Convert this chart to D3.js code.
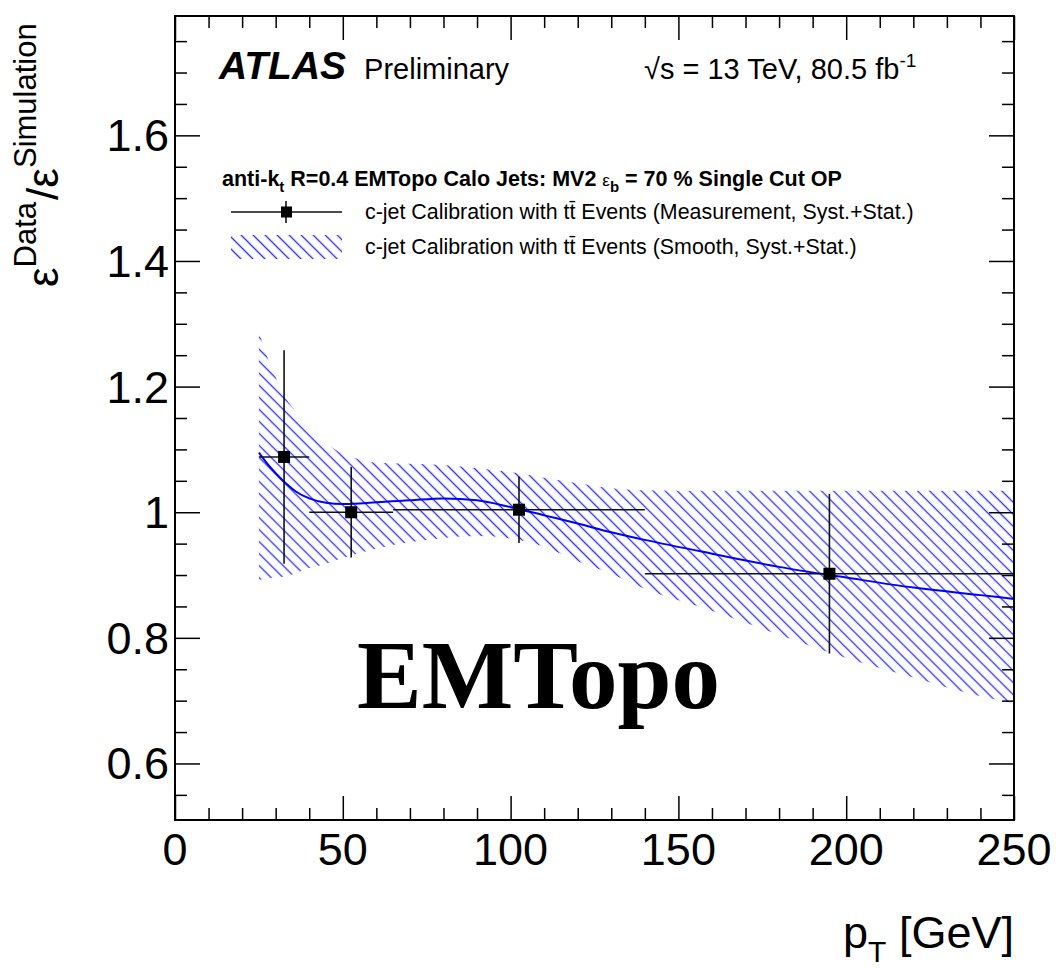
<!DOCTYPE html>
<html>
<head>
<meta charset="utf-8">
<script src="https://cdn.jsdelivr.net/npm/d3@7"></script>
<style>
  body { margin: 0; background: #fff; }
  svg { display: block; font-family: "Liberation Sans", Arial, Helvetica, sans-serif; }
</style>
</head>
<body>
<svg id="chart" width="1056" height="968"></svg>
<script>
// Measured c-jet scale factors per pT bin [GeV]
const binLow  = [25, 40, 65, 140];
const binHigh = [40, 65, 140, 250];
const sfValue = [1.088, 1.000, 1.004, 0.902];
const sfError = [0.170, 0.072, 0.053, 0.127];

// Smoothed calibration: central curve and Syst.+Stat. band
const smoothPt      = [25, 28, 30, 33, 36, 40, 45, 50, 55, 60, 70, 80, 90, 100, 110, 120, 130, 140, 160, 180, 200, 220, 240, 250];
const smoothCentral = [1.095, 1.074, 1.062, 1.046, 1.033, 1.022, 1.015, 1.013, 1.014, 1.016, 1.019, 1.022, 1.019, 1.008, 0.995, 0.982, 0.968, 0.956, 0.934, 0.913, 0.896, 0.880, 0.868, 0.862];
const smoothUp      = [1.287, 1.240, 1.215, 1.182, 1.160, 1.132, 1.110, 1.093, 1.084, 1.079, 1.077, 1.075, 1.070, 1.064, 1.055, 1.046, 1.038, 1.035, 1.034, 1.034, 1.034, 1.034, 1.034, 1.034];
const smoothDown    = [0.892, 0.895, 0.896, 0.898, 0.903, 0.911, 0.918, 0.927, 0.935, 0.942, 0.952, 0.959, 0.962, 0.958, 0.945, 0.922, 0.902, 0.878, 0.843, 0.805, 0.768, 0.737, 0.707, 0.696];

const xMajor = [0, 50, 100, 150, 200, 250];
const yMajor = [0.6, 0.8, 1.0, 1.2, 1.4, 1.6];

const frame = { left: 175, right: 1014, top: 16, bottom: 820 };
const BLUE = '#0000ff';

const svg = d3.select('#chart');

const x = d3.scaleLinear().domain([0, 250]).range([frame.left, frame.right]);
const y = d3.scaleLinear().domain([0.51, 1.79]).range([frame.bottom, frame.top]);

const defs = svg.append('defs');
defs.append('pattern')
  .attr('id', 'hatch')
  .attr('patternUnits', 'userSpaceOnUse')
  .attr('width', 8.5)
  .attr('height', 8.5)
  .attr('patternTransform', 'rotate(45)')
  .append('line')
  .attr('x1', 0).attr('y1', 4.25)
  .attr('x2', 8.5).attr('y2', 4.25)
  .attr('stroke', '#2a2aff')
  .attr('stroke-width', 1.3);

defs.append('clipPath').attr('id', 'plot-clip')
  .append('rect')
  .attr('x', frame.left).attr('y', frame.top)
  .attr('width', frame.right - frame.left)
  .attr('height', frame.bottom - frame.top);

// ── Smooth band + central curve ──
const smooth = smoothPt.map((pt, i) => ({ pt, c: smoothCentral[i], up: smoothUp[i], dn: smoothDown[i] }));

const plot = svg.append('g').attr('clip-path', 'url(#plot-clip)');

plot.append('path')
  .datum(smooth)
  .attr('d', d3.area()
    .x(d => x(d.pt))
    .y0(d => y(d.dn))
    .y1(d => y(d.up))
    .curve(d3.curveMonotoneX))
  .attr('fill', 'url(#hatch)');

plot.append('path')
  .datum(smooth)
  .attr('d', d3.line()
    .x(d => x(d.pt))
    .y(d => y(d.c))
    .curve(d3.curveMonotoneX))
  .attr('fill', 'none')
  .attr('stroke', BLUE)
  .attr('stroke-width', 2);

// ── Measurement points ──
const points = binLow.map((lo, i) => ({
  lo, hi: binHigh[i], mid: (lo + binHigh[i]) / 2, v: sfValue[i], err: sfError[i]
}));

const pts = plot.append('g');
pts.selectAll('.xerr')
  .data(points).enter().append('line')
  .attr('x1', d => x(d.lo)).attr('x2', d => x(d.hi))
  .attr('y1', d => y(d.v)).attr('y2', d => y(d.v))
  .attr('stroke', '#111').attr('stroke-width', 1.6);
pts.selectAll('.yerr')
  .data(points).enter().append('line')
  .attr('x1', d => x(d.mid)).attr('x2', d => x(d.mid))
  .attr('y1', d => y(d.v + d.err)).attr('y2', d => y(d.v - d.err))
  .attr('stroke', '#111').attr('stroke-width', 1.6);
pts.selectAll('.marker')
  .data(points).enter().append('rect')
  .attr('x', d => x(d.mid) - 6).attr('y', d => y(d.v) - 6)
  .attr('width', 12).attr('height', 12)
  .attr('fill', '#000');

// ── Frame and inward ticks on all four sides ──
const xMinor = d3.range(0, 251, 10).filter(v => v % 50 !== 0);
const yMinor = d3.range(0.55, 1.79, 0.05).map(v => +v.toFixed(2))
  .filter(v => !yMajor.some(m => Math.abs(m - v) < 1e-6));

function tickAxis(axisFn, scale, values, size, transform) {
  const g = svg.append('g')
    .attr('transform', transform)
    .call(axisFn(scale).tickValues(values).tickSize(size).tickFormat(''));
  g.select('.domain').remove();
  g.selectAll('.tick line').attr('stroke', '#000').attr('stroke-width', 1.5);
  return g;
}

tickAxis(d3.axisBottom, x, xMajor, -24, `translate(0,${frame.bottom})`);
tickAxis(d3.axisBottom, x, xMinor, -12, `translate(0,${frame.bottom})`);
tickAxis(d3.axisTop, x, xMajor, -24, `translate(0,${frame.top})`);
tickAxis(d3.axisTop, x, xMinor, -12, `translate(0,${frame.top})`);
tickAxis(d3.axisLeft, y, yMajor, -25, `translate(${frame.left},0)`);
tickAxis(d3.axisLeft, y, yMinor, -12, `translate(${frame.left},0)`);
tickAxis(d3.axisRight, y, yMajor, -25, `translate(${frame.right},0)`);
tickAxis(d3.axisRight, y, yMinor, -12, `translate(${frame.right},0)`);

svg.append('rect')
  .attr('x', frame.left).attr('y', frame.top)
  .attr('width', frame.right - frame.left)
  .attr('height', frame.bottom - frame.top)
  .attr('fill', 'none')
  .attr('stroke', '#000')
  .attr('stroke-width', 2);

// Tick labels
const fmtY = d => (d === 1 ? '1' : d3.format('.1f')(d));
svg.append('g').selectAll('text')
  .data(xMajor).enter().append('text')
  .attr('x', d => x(d))
  .attr('y', frame.bottom + 45)
  .attr('text-anchor', 'middle')
  .attr('font-size', 45)
  .text(d => d);
svg.append('g').selectAll('text')
  .data(yMajor).enter().append('text')
  .attr('x', frame.left - 6)
  .attr('y', d => y(d) + 16)
  .attr('text-anchor', 'end')
  .attr('font-size', 45)
  .text(fmtY);

// Axis titles
const xTitle = svg.append('text')
  .attr('x', frame.right)
  .attr('y', 948)
  .attr('text-anchor', 'end')
  .attr('font-size', 45);
xTitle.append('tspan').text('p');
xTitle.append('tspan').attr('font-size', 30).attr('dy', 14).text('T');
xTitle.append('tspan').attr('dy', -14).text(' [GeV]');

const yTitle = svg.append('text')
  .attr('transform', 'translate(58,287) rotate(-90)')
  .attr('font-size', 44);
yTitle.append('tspan').text('ε');
yTitle.append('tspan').attr('font-size', 31).attr('dy', -22).text('Data');
yTitle.append('tspan').attr('dy', 22).attr('dx', 2).text('/');
yTitle.append('tspan').text('ε');
yTitle.append('tspan').attr('font-size', 31).attr('dy', -22).text('Simulation');

// ── Labels ──
const atlas = svg.append('text').attr('x', 219).attr('y', 79);
atlas.append('tspan')
  .attr('font-size', 39).attr('font-weight', 'bold').attr('font-style', 'italic')
  .text('ATLAS');
atlas.append('tspan').attr('font-size', 29).attr('dx', 18).text('Preliminary');

const lumi = svg.append('text').attr('x', 644).attr('y', 79).attr('font-size', 29);
lumi.append('tspan').text('√s = 13 TeV, 80.5 fb');
lumi.append('tspan').attr('font-size', 19).attr('dy', -12).text('-1');

svg.append('text')
  .attr('x', 357).attr('y', 708)
  .style('font-family', '"Liberation Serif", "Times New Roman", serif')
  .attr('font-size', 97)
  .attr('font-weight', 'bold')
  .text('EMTopo');

// ── Legend ──
const header = svg.append('text')
  .attr('x', 222).attr('y', 186)
  .attr('font-size', 21.5).attr('font-weight', 'bold');
header.append('tspan').text('anti-k');
header.append('tspan').attr('font-size', 15).attr('dy', 6).text('t');
header.append('tspan').attr('dy', -6).text(' R=0.4 EMTopo Calo Jets: MV2 ');
header.append('tspan').attr('font-weight', 'normal').attr('font-size', 17).text('ε');
header.append('tspan').attr('font-size', 15).attr('dy', 6).text('b');
header.append('tspan').attr('dy', -6).text(' = 70 % Single Cut OP');

const legendEntries = [
  'c-jet Calibration with tt\u0304 Events (Measurement, Syst.+Stat.)',
  'c-jet Calibration with tt\u0304 Events (Smooth, Syst.+Stat.)'
];
const legendY = [212, 247];

const lg = svg.append('g');
lg.append('line')
  .attr('x1', 231).attr('x2', 342)
  .attr('y1', legendY[0]).attr('y2', legendY[0])
  .attr('stroke', '#111').attr('stroke-width', 1.6);
lg.append('line')
  .attr('x1', 286).attr('x2', 286)
  .attr('y1', legendY[0] - 11).attr('y2', legendY[0] + 11)
  .attr('stroke', '#111').attr('stroke-width', 1.6);
lg.append('rect')
  .attr('x', 281).attr('y', legendY[0] - 5.5)
  .attr('width', 11).attr('height', 11)
  .attr('fill', '#000');
lg.append('rect')
  .attr('x', 231).attr('y', legendY[1] - 12)
  .attr('width', 111).attr('height', 24)
  .attr('fill', 'url(#hatch)');

lg.selectAll('.entry')
  .data(legendEntries).enter().append('text')
  .attr('x', 365)
  .attr('y', (d, i) => legendY[i] + 7)
  .attr('font-size', 21.4)
  .text(d => d);
</script>
</body>
</html>
